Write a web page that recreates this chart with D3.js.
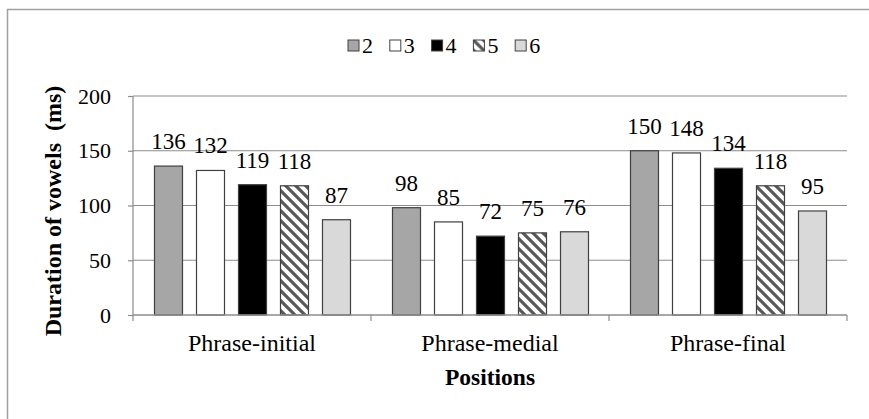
<!DOCTYPE html>
<html><head><meta charset="utf-8">
<script src="https://cdn.jsdelivr.net/npm/d3@7"></script>
</head><body style="margin:0">
<script>
const categories = ["Phrase-initial", "Phrase-medial", "Phrase-final"];
const seriesNames = ["2", "3", "4", "5", "6"];
const s2 = [136, 98, 150];
const s3 = [132, 85, 148];
const s4 = [119, 72, 134];
const s5 = [118, 75, 118];
const s6 = [87, 76, 95];
const yTicks = [0, 50, 100, 150, 200];
const seriesValues = [s2, s3, s4, s5, s6];
const fills = ["#a6a6a6", "#ffffff", "#000000", "url(#diag)", "#d9d9d9"];

const FONT = "'Liberation Serif', 'Times New Roman', serif";
const W = 869, H = 419;
const svg = d3.select("body").append("svg").attr("width", W).attr("height", H).style("display", "block");
const defs = svg.append("defs");
const pat = defs.append("pattern").attr("id", "diag").attr("patternUnits", "userSpaceOnUse")
  .attr("width", 10).attr("height", 10);
pat.append("rect").attr("width", 10).attr("height", 10).attr("fill", "#fff");
pat.append("path").attr("d", "M-2,-2L12,12M-2,8L2,12M8,-2L12,2").attr("stroke", "#595959").attr("stroke-width", 3.2);

// outer border
svg.append("path").attr("d", "M7.5,430V9.5H880").attr("fill", "none").attr("stroke", "#a0a0a0").attr("stroke-width", 1.5);

const L = 133, R = 847, T = 96, B = 315;
const x0 = d3.scaleBand().domain(categories).range([L, R]);
const x1 = d3.scaleBand().domain(seriesNames).range([0, x0.bandwidth()]).paddingInner(1/3).paddingOuter(0.5);
const y = d3.scaleLinear().domain([0, 200]).range([B, T]);

// gridlines
svg.append("g").selectAll("line").data(yTicks.filter(d => d > 0)).join("line")
  .attr("x1", L).attr("x2", R).attr("y1", d => y(d)).attr("y2", d => y(d))
  .attr("stroke", "#8c8c8c").attr("stroke-width", 1.2);

// bars
const rows = [];
categories.forEach((c, ci) => seriesNames.forEach((s, si) => rows.push({c, s, si, v: seriesValues[si][ci]})));
svg.append("g").selectAll("rect").data(rows).join("rect")
  .attr("x", d => x0(d.c) + x1(d.s) + 0.5)
  .attr("y", d => y(d.v))
  .attr("width", x1.bandwidth())
  .attr("height", d => y(0) - y(d.v))
  .attr("fill", d => fills[d.si])
  .attr("stroke", "#404040").attr("stroke-width", 1.2);

// labels
svg.append("g").selectAll("text").data(rows).join("text")
  .attr("x", d => x0(d.c) + x1(d.s) + x1.bandwidth() / 2 + 0.5)
  .attr("y", d => y(d.v) - 17)
  .attr("text-anchor", "middle").attr("font-size", 23).text(d => d.v);

// y axis
const yAxis = svg.append("g").attr("transform", `translate(${L},0)`)
  .call(d3.axisLeft(y).tickValues(yTicks).tickSize(5).tickPadding(17));
yAxis.attr("font-family", null).attr("font-size", null);
yAxis.selectAll("path,line").attr("stroke", "#8c8c8c").attr("stroke-width", 1.2);
yAxis.select(".domain").attr("d", `M0,${T}V${B}`);
yAxis.selectAll("text").attr("font-size", 22).attr("fill", "#000");

// x axis
const xAxis = svg.append("g").attr("transform", `translate(0,${B})`);
xAxis.append("line").attr("x1", L).attr("x2", R).attr("stroke", "#8c8c8c").attr("stroke-width", 1.5);
const bounds = categories.map(c => x0(c)).concat([R]);
xAxis.selectAll("line.tk").data(bounds).join("line").attr("class", "tk")
  .attr("x1", d => d).attr("x2", d => d).attr("y1", 0).attr("y2", 6)
  .attr("stroke", "#8c8c8c").attr("stroke-width", 1.2);
xAxis.selectAll("text").data(categories).join("text")
  .attr("x", d => x0(d) + x0.bandwidth() / 2).attr("y", 36)
  .attr("text-anchor", "middle").attr("font-size", 24).text(d => d);

// axis titles
svg.append("text").attr("x", (L + R) / 2).attr("y", 385).attr("text-anchor", "middle")
  .attr("font-size", 23.5).attr("font-weight", "bold").text("Positions");
svg.append("text").attr("transform", `translate(61,211) rotate(-90)`)
  .attr("text-anchor", "middle").attr("font-size", 24).attr("font-weight", "bold")
  .style("white-space", "pre").text("Duration of vowels  (ms)");

// legend
const lg = svg.append("g").selectAll("g").data(seriesNames).join("g")
  .attr("transform", (d, i) => `translate(${348 + i * 41.8},40)`);
lg.append("rect").attr("width", 11).attr("height", 11).attr("fill", (d, i) => fills[i])
  .attr("stroke", "#404040").attr("stroke-width", 1);
lg.append("text").attr("x", 14).attr("y", 13).attr("font-size", 22).text(d => d);

svg.selectAll("text").style("font-family", FONT).style("fill", "#000");
</script>
</body></html>
